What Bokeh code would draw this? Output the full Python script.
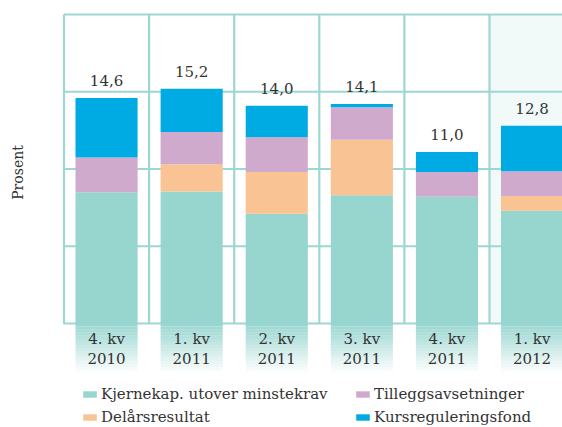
import numpy as np
from bokeh.plotting import figure
from bokeh.models import ColumnDataSource, Range1d, Legend, LegendItem
from bokeh.core.properties import value
from bokeh.embed import file_html
from bokeh.resources import INLINE

# ---------------- data ----------------
categories = ["4. kv\n2010", "1. kv\n2011", "2. kv\n2011", "3. kv\n2011", "4. kv\n2011", "1. kv\n2012"]
kjernekap = [8.5, 8.55, 7.1, 8.3, 8.2, 7.3]
delarsresultat = [0.0, 1.75, 2.7, 3.6, 0.0, 0.95]
tillegg = [2.25, 2.1, 2.25, 2.1, 1.6, 1.6]
kursreg = [3.85, 2.8, 2.05, 0.2, 1.3, 2.95]
total_labels = ["14,6", "15,2", "14,0", "14,1", "11,0", "12,8"]
series_names = ["Kjernekap. utover minstekrav", "Delårsresultat",
                "Tilleggsavsetninger", "Kursreguleringsfond"]
grid_values = [0, 5, 10, 15, 20]

# ---------------- style ----------------
colors = ["#97d5cf", "#f9c393", "#cfaacc", "#00abe3"]
grid_color = "#9dd7d2"
text_color = "#333333"
font = value("DejaVu Serif")
fsize = "15px"

W, H = 562, 427
px_col, px_unit = 85.1, 15.45
x_start = -63.5 / px_col
x_end = x_start + W / px_col
y_end = 323 / px_unit
y_start = y_end - H / px_unit

n = len(categories)
xs = np.arange(n) + 0.5
keys = ["k", "d", "t", "r"]
src = ColumnDataSource(dict(x=xs, k=kjernekap, d=delarsresultat, t=tillegg, r=kursreg))
totals = np.array(kjernekap) + np.array(delarsresultat) + np.array(tillegg) + np.array(kursreg)

p = figure(width=W, height=H, output_backend="svg", toolbar_location=None,
           x_axis_type=None, y_axis_type=None,
           x_range=Range1d(x_start, x_end), y_range=Range1d(y_start, y_end),
           min_border=0, outline_line_color=None)
p.grid.visible = False

# highlighted last column background
p.quad(left=[n - 1], right=[n + 0.5], bottom=[grid_values[0]], top=[grid_values[-1]],
       fill_color="#f1f9f9", line_color=None)

# horizontal grid lines
hy = grid_values[1:]
p.segment(x0=[0] * len(hy), x1=[n + 0.5] * len(hy), y0=hy, y1=hy,
          line_color=grid_color, line_width=2.2)
# vertical grid lines
vx = list(range(1, n + 1))
p.segment(x0=vx, x1=vx, y0=[grid_values[0]] * len(vx), y1=[grid_values[-1]] * len(vx),
          line_color=grid_color, line_width=2.2)
# left + bottom axis line with rounded corner
p.line(x=[0, 0, n + 0.5], y=[grid_values[-1], 0, 0], line_color=grid_color,
       line_width=2.2, line_join="round")

# fading label boxes under bars
depth, steps = 3.2, 16
gx, gt, gb, ga = [], [], [], []
for i in range(steps):
    for x in xs:
        gx.append(x)
        gt.append(-depth * i / steps)
        gb.append(-depth * (i + 1) / steps)
        ga.append(1 - (i + 0.5) / steps)
p.vbar(x=gx, top=gt, bottom=gb, width=0.73, fill_color=colors[0], fill_alpha=ga, line_color=None)

# stacked bars
rs = p.vbar_stack(keys, x="x", width=0.73, source=src, color=colors, line_color=None)

# category labels
p.text(x=xs, y=[-1.65] * n, text=categories, text_align="center", text_baseline="middle",
       text_font=font, text_font_size=fsize, text_color=text_color, text_line_height=1.12)

# total labels
p.text(x=xs, y=totals, text=total_labels, text_align="center", text_baseline="bottom",
       y_offset=-12, text_font=font, text_font_size=fsize, text_color=text_color)

# y label
p.text(x=[(17 - 63.5) / px_col], y=[(323 - 172) / px_unit], text=["Prosent"], angle=np.pi / 2,
       text_align="center", text_baseline="middle", text_font=font, text_font_size="14px",
       text_color=text_color)

# legends (two columns)
def make_legend(idx, xloc):
    leg = Legend(items=[LegendItem(label=series_names[i], renderers=[rs[i]]) for i in idx],
                 location=(xloc, 0), orientation="vertical", padding=0, margin=0,
                 spacing=3, glyph_width=17, glyph_height=8, label_height=20,
                 label_standoff=3, border_line_color=None, background_fill_alpha=0,
                 label_text_font="DejaVu Serif", label_text_font_size=fsize,
                 label_text_color=text_color)
    p.add_layout(leg)

make_legend([0, 1], 81)
make_legend([2, 3], 354)

open("out.html", "w").write(file_html(p, INLINE))
